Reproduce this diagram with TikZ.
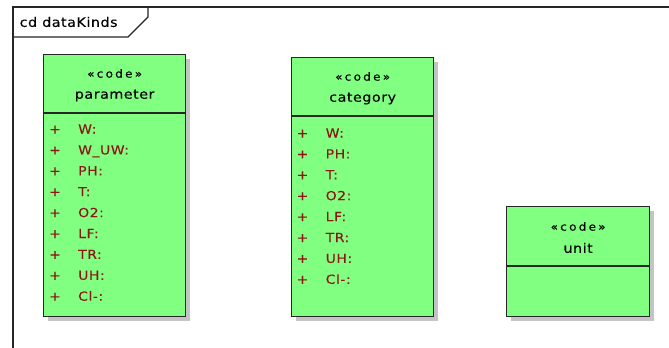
\documentclass[tikz,border=0pt]{standalone}
\usepackage{fontspec}
\setmainfont{DejaVu Sans}[FakeStretch=1.1, LetterSpace=4, FakeBold=0.15]
\usetikzlibrary{shadows,calc}
\definecolor{classgreen}{RGB}{128,255,128}
\definecolor{attrred}{RGB}{140,22,22}
\definecolor{edgegray}{RGB}{38,38,38}
\definecolor{shadowgray}{RGB}{196,196,196}
\tikzset{
  classbox/.style={draw=edgegray, fill=classgreen, line width=1.3bp,
    inner sep=0pt, anchor=north west,
    drop shadow={shadow xshift=4.5bp, shadow yshift=-4.5bp, fill=shadowgray, opacity=1}},
  separator/.style={draw=edgegray, line width=1.3bp},
  framewire/.style={draw=edgegray, line width=1.3bp},
  txt/.style={inner sep=0pt, font=\fontsize{13bp}{15bp}\selectfont},
  stereo/.style={txt, font=\fontsize{11bp}{13bp}\selectfont\addfontfeature{LetterSpace=20}},
  clsname/.style={txt},
  attrtxt/.style={inner sep=0pt, text=attrred, anchor=west, text height=9bp, text depth=0pt,
    font=\fontsize{12.5bp}{14bp}\selectfont\addfontfeature{FakeStretch=1.12}},
  attrsign/.style={inner sep=0pt, text=attrred, anchor=center, text height=9bp, text depth=0pt,
    font=\fontsize{12.5bp}{14bp}\selectfont},
  framelabel/.style={txt, anchor=west}
}
\begin{document}
\begin{tikzpicture}[x=1bp,y=-1bp]
\useasboundingbox (0,0) rectangle (669,347);
\fill[white] (0,0) rectangle (669,347);

% diagram frame and its name tab
\draw[framewire] (13,352) -- (13,7) -- (674,7);
\draw[framewire] (13,37) -- (128,37) -- (148,17) -- (148,7);
\node[framelabel] (framename) at (19.5,22) {cd dataKinds};

% class: parameter
\node[classbox, minimum width=142bp, minimum height=262bp] (param) at (43,54) {};
\draw[separator] ($(param.north west)+(0,59)$) -- ($(param.north east)+(0,59)$);
\node[stereo] (paramst) at ($(param.north)+(0,19.5)$) {«code»};
\node[clsname] (paramname) at ($(param.north)+(0,41.5)$) {parameter};
\foreach \a [count=\i from 0] in {W:, W\_UW:, PH:, T:, O2:, LF:, TR:, UH:, Cl-:} {
  \node[attrsign] (paramsign\i) at ($(param.north west)+(12,75+20.9*\i)$) {+};
  \node[attrtxt] (paramattr\i) at ($(param.north west)+(35,75+20.9*\i)$) {\a};
}

% class: category
\node[classbox, minimum width=142bp, minimum height=259bp] (cat) at (291,57) {};
\draw[separator] ($(cat.north west)+(0,59)$) -- ($(cat.north east)+(0,59)$);
\node[stereo] (catst) at ($(cat.north)+(0,19.5)$) {«code»};
\node[clsname] (catname) at ($(cat.north)+(0,41.5)$) {category};
\foreach \a [count=\i from 0] in {W:, PH:, T:, O2:, LF:, TR:, UH:, Cl-:} {
  \node[attrsign] (catsign\i) at ($(cat.north west)+(11.5,76+20.9*\i)$) {+};
  \node[attrtxt] (catattr\i) at ($(cat.north west)+(34.5,76+20.9*\i)$) {\a};
}

% class: unit
\node[classbox, minimum width=143bp, minimum height=110bp] (unit) at (506,206) {};
\draw[separator] ($(unit.north west)+(0,60)$) -- ($(unit.north east)+(0,60)$);
\node[stereo] (unitst) at ($(unit.north)+(0,20.5)$) {«code»};
\node[clsname] (unitname) at ($(unit.north)+(0,42)$) {unit};
\end{tikzpicture}
\end{document}
